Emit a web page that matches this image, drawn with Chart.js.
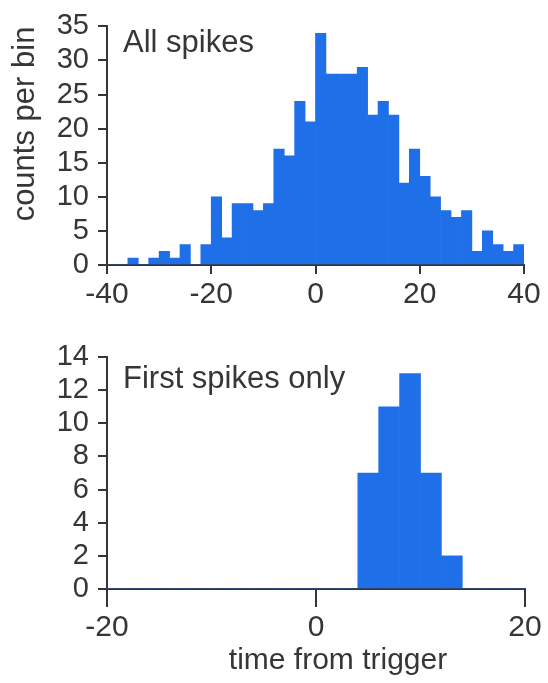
<!DOCTYPE html>
<html>
<head>
<meta charset="utf-8">
<script src="https://cdn.jsdelivr.net/npm/chart.js@4"></script>
<style>
  body { margin: 0; background: #fff; }
  .box { position: absolute; left: 0; width: 548px; }
  #top { top: 0; height: 320px; }
  #bottom { top: 320px; height: 363px; }
</style>
</head>
<body>
<div class="box" id="top"><canvas id="allChart"></canvas></div>
<div class="box" id="bottom"><canvas id="firstChart"></canvas></div>
<script>
// bin centres (2 ms bins) and counts
const allBins = [-39, -37, -35, -33, -31, -29, -27, -25, -23, -21, -19, -17, -15, -13, -11, -9, -7, -5, -3, -1,
  1, 3, 5, 7, 9, 11, 13, 15, 17, 19, 21, 23, 25, 27, 29, 31, 33, 35, 37, 39];
const allCounts = [0, 0, 1, 0, 1, 2, 1, 3, 0, 3, 10, 4, 9, 9, 8, 9, 17, 16, 24, 21,
  34, 28, 28, 28, 29, 22, 24, 22, 12, 17, 13, 10, 8, 7, 8, 2, 5, 3, 2, 3];

const firstBins = [-19, -17, -15, -13, -11, -9, -7, -5, -3, -1, 1, 3, 5, 7, 9, 11, 13, 15, 17, 19];
const firstCounts = [0, 0, 0, 0, 0, 0, 0, 0, 0, 0, 0, 0, 7, 11, 13, 7, 2, 0, 0, 0];

const allXTicks = [-40, -20, 0, 20, 40];
const allYTicks = [0, 5, 10, 15, 20, 25, 30, 35];
const firstXTicks = [-20, 0, 20];
const firstYTicks = [0, 2, 4, 6, 8, 10, 12, 14];

const BLUE = "#1f6fe8";
const INK = "#363636";
const FONT = "'Liberation Sans', Arial, sans-serif";

// free text: panel labels and axis titles
const textPlugin = {
  id: "texts",
  afterDraw(chart, args, opts) {
    const ctx = chart.ctx;
    (opts.items || []).forEach((t) => {
      ctx.save();
      ctx.fillStyle = INK;
      ctx.font = t.size + "px " + FONT;
      ctx.textAlign = t.align || "left";
      ctx.textBaseline = t.baseline || "alphabetic";
      ctx.translate(t.x, t.y);
      if (t.rotate) ctx.rotate(t.rotate);
      ctx.fillText(t.text, 0, 0);
      ctx.restore();
    });
  },
};

function makeChart(id, bins, counts, xTicks, yTicks, o) {
  return new Chart(document.getElementById(id), {
    type: "bar",
    data: {
      datasets: [
        {
          data: bins.map((b, i) => ({ x: b, y: counts[i] })),
          backgroundColor: BLUE,
          borderWidth: 0,
          barPercentage: 1,
          categoryPercentage: 1,
        },
      ],
    },
    options: {
      responsive: true,
      maintainAspectRatio: false,
      animation: false,
      layout: { padding: { top: o.top, right: o.right, left: 0, bottom: 0 } },
      plugins: {
        legend: { display: false },
        tooltip: { enabled: false },
        texts: { items: o.texts },
      },
      scales: {
        x: {
          type: "linear",
          min: xTicks[0],
          max: xTicks[xTicks.length - 1],
          offset: false,
          afterBuildTicks: (s) => { s.ticks = xTicks.map((v) => ({ value: v })); },
          afterFit: (s) => { s.height = o.xHeight; s.paddingLeft = 0; s.paddingRight = 0; },
          grid: { offset: false, drawOnChartArea: false, tickLength: o.xTick, color: INK, lineWidth: 2 },
          border: { color: INK, width: 2 },
          ticks: { color: INK, font: { family: FONT, size: 30 }, padding: 3, maxRotation: 0, autoSkip: false },
        },
        y: {
          min: yTicks[0],
          max: yTicks[yTicks.length - 1],
          afterBuildTicks: (s) => { s.ticks = yTicks.map((v) => ({ value: v })); },
          afterFit: (s) => { s.width = 107; },
          grid: { drawOnChartArea: false, tickLength: 9, color: INK, lineWidth: 2 },
          border: { color: INK, width: 2 },
          ticks: { color: INK, font: { family: FONT, size: 29 }, padding: 9, autoSkip: false },
        },
      },
    },
    plugins: [textPlugin],
  });
}

makeChart("allChart", allBins, allCounts, allXTicks, allYTicks, {
  top: 23, right: 24, xHeight: 55, xTick: 9,
  texts: [
    { text: "All spikes", x: 123, y: 52, size: 31 },
    { text: "counts per bin", x: 25, y: 124, size: 31, align: "center", baseline: "middle", rotate: -Math.PI / 2 },
  ],
});

makeChart("firstChart", firstBins, firstCounts, firstXTicks, firstYTicks, {
  top: 37, right: 23, xHeight: 94, xTick: 18,
  texts: [
    { text: "First spikes only", x: 123, y: 68, size: 31 },
    { text: "time from trigger", x: 338, y: 349, size: 30, align: "center" },
  ],
});
</script>
</body>
</html>
